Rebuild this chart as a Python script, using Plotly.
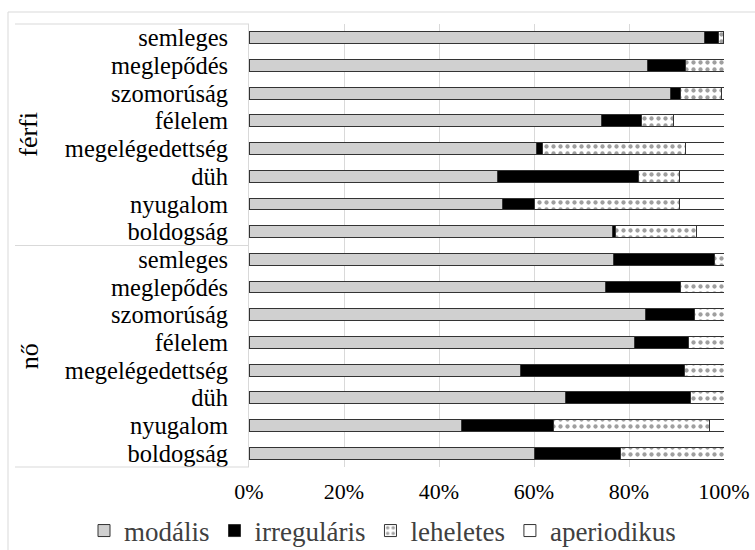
import plotly.graph_objects as go

# ---- data (percent) ----
groups = ["férfi", "nő"]
emotions = ["semleges", "meglepődés", "szomorúság", "félelem",
            "megelégedettség", "düh", "nyugalom", "boldogság"]
series_names = ["modális", "irreguláris", "leheletes", "aperiodikus"]

ferfi_modalis     = [95.8, 83.8, 88.8, 74.2, 60.5, 52.4, 53.3, 76.5]
ferfi_irregularis = [3.0, 8.1, 2.0, 8.4, 1.3, 29.5, 6.8, 0.6]
ferfi_leheletes   = [1.0, 8.1, 8.6, 6.8, 30.1, 8.8, 30.6, 17.2]
ferfi_aperiodikus = [0.2, 0.0, 0.6, 10.6, 8.1, 9.3, 9.3, 5.7]

no_modalis     = [76.8, 75.0, 83.5, 81.2, 57.1, 66.6, 44.7, 60.0]
no_irregularis = [21.1, 15.8, 10.2, 11.4, 34.5, 26.3, 19.3, 18.2]
no_leheletes   = [2.1, 9.2, 6.3, 7.4, 8.4, 7.1, 33.0, 21.8]
no_aperiodikus = [0.0, 0.0, 0.0, 0.0, 0.0, 0.0, 3.0, 0.0]

x_ticks = [0, 20, 40, 60, 80, 100]
x_tick_labels = ["0%", "20%", "40%", "60%", "80%", "100%"]

# ---- layout constants ----
W, H = 755, 550
ML, MR, MT, MB = 249, 31, 24, 83
PW, PH = W - ML - MR, H - MT - MB
FONT = "Liberation Serif"

def px_x(p):
    return (p - ML) / PW

def px_y(p):
    return (H - MB - p) / PH

labels = emotions + emotions
n = len(labels)
ypos = [n - 1 - i for i in range(n)]

values = [
    ferfi_modalis + no_modalis,
    ferfi_irregularis + no_irregularis,
    ferfi_leheletes + no_leheletes,
    ferfi_aperiodikus + no_aperiodikus,
]
fills = ["#d0d0d0", "#000000", "#ffffff", "#ffffff"]

fig = go.Figure()
for name, vals, col in zip(series_names, values, fills):
    marker = dict(color=col, line=dict(color="#333333", width=1))
    if name == "leheletes":
        marker["pattern"] = dict(shape=".", fgcolor="#404040", bgcolor="#ffffff",
                                 size=7, solidity=0.3, fillmode="overlay")
    fig.add_trace(go.Bar(
        x=vals, y=ypos, orientation="h", name=name,
        marker=marker, width=0.43,
    ))

shapes = []
line_col = "#d9d9d9"
# group box lines
for yp in [1.0, 0.5, 0.0]:
    shapes.append(dict(type="line", xref="paper", yref="paper",
                       x0=px_x(15), x1=0, y0=yp, y1=yp,
                       line=dict(color=line_col, width=1)))
# outer frame
shapes.append(dict(type="line", xref="paper", yref="paper",
                   x0=px_x(8), x1=px_x(760), y0=px_y(12), y1=px_y(12),
                   line=dict(color=line_col, width=1)))
shapes.append(dict(type="line", xref="paper", yref="paper",
                   x0=px_x(8), x1=px_x(8), y0=px_y(12), y1=px_y(555),
                   line=dict(color=line_col, width=1)))

annotations = []
for g, yc in zip(groups, [0.75, 0.25]):
    annotations.append(dict(text=g, xref="paper", yref="paper",
                            x=px_x(29), y=yc, showarrow=False, textangle=-90,
                            font=dict(family=FONT, size=26, color="#000000"),
                            xanchor="center", yanchor="middle"))

fig.update_layout(
    width=W, height=H,
    margin=dict(l=ML, r=MR, t=MT, b=MB, pad=0, autoexpand=False),
    barmode="stack",
    paper_bgcolor="white", plot_bgcolor="white",
    font=dict(family=FONT, color="#000000"),
    showlegend=True,
    legend=dict(orientation="h", xref="paper", yref="paper",
                x=px_x(84), xanchor="left", y=px_y(531), yanchor="middle",
                font=dict(family=FONT, size=27, color="#404040"),
                itemwidth=30, traceorder="normal", tracegroupgap=0,
                bgcolor="rgba(0,0,0,0)"),
    shapes=shapes,
    annotations=annotations,
    xaxis=dict(range=[0, 100], tickvals=x_ticks, ticktext=x_tick_labels,
               showgrid=True, gridcolor="#d9d9d9", gridwidth=1,
               zeroline=False, showline=False, ticks="",
               ticklabelstandoff=9,
               tickfont=dict(family=FONT, size=22, color="#000000"),
               fixedrange=True),
    yaxis=dict(range=[-0.5, n - 0.5], tickvals=ypos, ticktext=labels,
               showgrid=False, zeroline=False, showline=True,
               linecolor="#d9d9d9", linewidth=1, ticks="",
               ticklabelstandoff=15,
               tickfont=dict(family=FONT, size=24.5, color="#000000"),
               fixedrange=True),
)

fig.write_html("out.html", config={"displayModeBar": False},
               post_script="document.body.style.margin='0';document.body.style.overflow='hidden';")
